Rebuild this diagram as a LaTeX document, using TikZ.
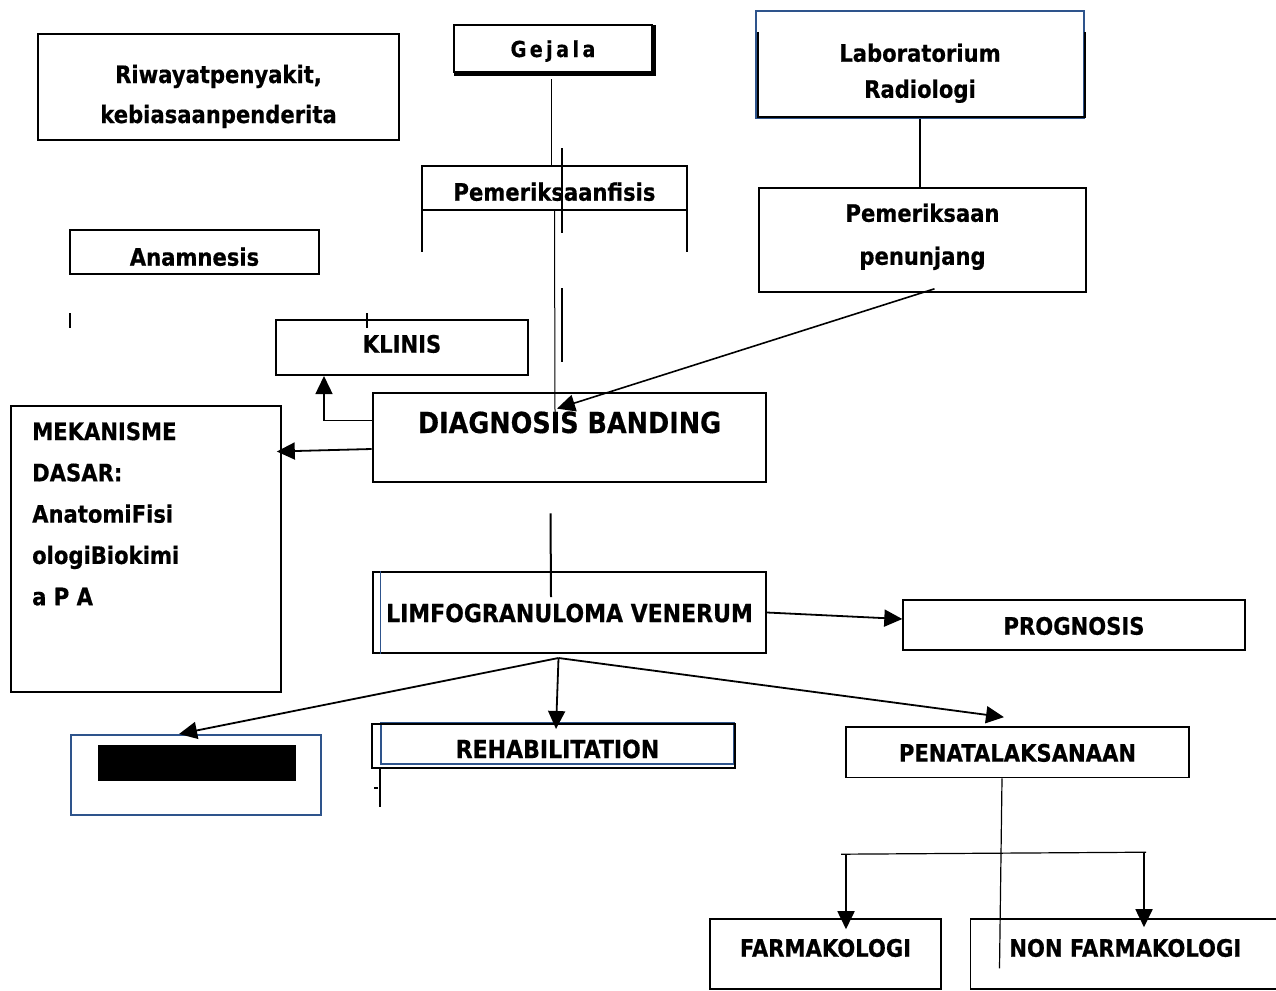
\documentclass[tikz,border=0pt]{standalone}
\usepackage{fontspec}
\setmainfont{DejaVu Sans}[FakeStretch=0.88, FakeBold=0.5]
\usepackage{xcolor}
\usetikzlibrary{arrows.meta}
\definecolor{boxblue}{RGB}{46,84,140}
\tikzset{
  box/.style={draw, line width=1.6pt, inner sep=0pt, align=center,
    font=\bfseries\fontsize{24}{40}\selectfont},
  arr/.style={line width=1.8pt, -{Triangle[length=18pt,width=17pt]}},
  ln/.style={line width=1.2pt}
}

\begin{document}
\begin{tikzpicture}[x=1pt,y=-1pt]
\useasboundingbox (0,0) rectangle (1276,990);

\node[box, minimum width=361, text height=89pt, text depth=17pt] (riwayat) at (218.5,87) {Riwayatpenyakit,\\kebiasaanpenderita};
\node[box, line width=2.2pt, minimum width=198, text height=32pt, text depth=15pt,
  font=\bfseries\fontsize{22}{25}\selectfont\addfontfeature{LetterSpace=15}] (gejala) at (553,48.5) {Gejala};
\node[box, draw=boxblue, line width=2pt, minimum width=328, text height=86.75pt, text depth=20.25pt,
  font=\bfseries\fontsize{24}{36}\selectfont] (lab) at (920,64.5) {Laboratorium\\Radiologi};
\node[box, draw=none, minimum width=263, text height=33.7pt, text depth=8.3pt] (fisis) at (554.5,188) {Pemeriksaanfisis};
\node[box, minimum width=327, text height=76.75pt, text depth=27.25pt,
  font=\bfseries\fontsize{24}{43}\selectfont] (pen) at (922.5,240) {Pemeriksaan\\penunjang};
\node[box, minimum width=249, text height=35.7pt, text depth=8.3pt] (anam) at (194.5,252) {Anamnesis};
\node[box, line width=2pt, minimum width=252, text height=32.7pt, text depth=22.3pt] (klinis) at (402,347.5) {KLINIS};
\node[box, line width=2.8pt, minimum width=393, text height=40pt, text depth=49pt,
  font=\bfseries\fontsize{29}{34}\selectfont] (diag) at (569.5,437.5) {DIAGNOSIS BANDING};
\node[box, minimum width=270, minimum height=286] (mek) at (146,549) {};
\node[anchor=north west, inner sep=0pt, align=left,
  font=\bfseries\fontsize{24}{41.3}\selectfont] (mektext) at (32,422)
  {MEKANISME\\DASAR:\\AnatomiFisi\\ologiBiokimi\\a P A};
\node[box, line width=2pt, minimum width=393, text height=50.1pt, text depth=30.9pt,
  font=\bfseries\fontsize{25}{30}\selectfont] (limfo) at (569.5,612.5) {LIMFOGRANULOMA VENERUM};
\node[box, line width=1.4pt, minimum width=342, text height=34.7pt, text depth=15.3pt] (prog) at (1074,625) {PROGNOSIS};
\node[box, draw=boxblue, line width=2pt, minimum width=250, minimum height=80] (redact) at (196,775) {};
\node[box, draw=boxblue, line width=2pt, minimum width=353, text height=35.1pt, text depth=5.9pt,
  font=\bfseries\fontsize{25}{30}\selectfont] (rehab) at (557.5,743.5) {REHABILITATION};
\node[box, minimum width=343, text height=34.7pt, text depth=16pt] (penata) at (1017.5,752.3) {PENATALAKSANAAN};
\node[box, minimum width=231, text height=37.7pt, text depth=32.3pt] (farma) at (825.5,954) {FARMAKOLOGI};
\node[box, minimum width=309.5, text height=37.7pt, text depth=32.3pt] (nonfarma) at (1125.25,954) {NON FARMAKOLOGI};

\fill ([xshift=28pt,yshift=-11pt]redact.north west) rectangle ([xshift=-26pt,yshift=35pt]redact.south east);
\draw[line width=1.6pt] ([xshift=-8pt,yshift=-2pt]rehab.north west) rectangle ([yshift=-3pt]rehab.south east);
\draw[line width=1.6pt] ([yshift=-3pt]rehab.south west) -- ++(0,39);
\draw[line width=1.6pt] (374,788) -- (378,788);
\draw[line width=2pt] ([xshift=3pt,yshift=-22pt]lab.north west) |- ([yshift=2pt]lab.south east) -- ([yshift=-22pt]lab.north east);
\draw[line width=2.4pt] ([xshift=1.5pt,yshift=-1.5pt]gejala.north east) |- ([xshift=1.5pt,yshift=-1.5pt]gejala.south west);
\draw[boxblue, line width=1.5pt] ([xshift=8.5pt]limfo.north west) -- ([xshift=8.5pt]limfo.south west);
\draw[line width=1.6pt] ([yshift=-42pt]fisis.south west) -- (fisis.north west) -- (fisis.north east) -- ([yshift=-42pt]fisis.south east);
\draw[line width=2.6pt] (fisis.south west) -- (fisis.south east);

\draw[ln] (70,313) -- (70,328);
\draw[ln] (367,313) -- (367,328);
\draw[ln] (562,148) -- (562,233);
\draw[ln] (562,288) -- (562,362);

\coordinate (pentip) at ([xshift=-12.5pt,yshift=-17pt]diag.north);
\coordinate (fork) at ([xshift=-11pt,yshift=-4pt]limfo.south);
\coordinate (splitL) at ([xshift=20.5pt,yshift=64pt]farma.north);
\coordinate (splitR) at ([xshift=18.75pt,yshift=66pt]nonfarma.north);

\draw[ln] ([xshift=-1.5pt,yshift=-6pt]gejala.south) -- ([xshift=-1.5pt]gejala.south |- fisis.north);
\draw[line width=1pt] (fisis.south) -- ++(0.5,203);
\draw[ln] (lab.south) -- (lab.south |- pen.north);
\draw[arr, line width=1.6pt] ([xshift=12pt,yshift=4pt]pen.south) -- (pentip);
\draw[arr, line width=1.4pt] ([yshift=17pt]diag.west) -| ([xshift=-78pt]klinis.south);
\draw[arr] ([yshift=-11.5pt]diag.west) -- ([xshift=-5pt,yshift=97.5pt]mek.east);
\draw[line width=2pt] ([xshift=-19pt,yshift=-30pt]diag.south) -- ([xshift=-18.5pt,yshift=-26pt]limfo.north);
\draw[arr] (limfo.east) -- ([yshift=6pt]prog.west);
\draw[arr] (fork) -- ([xshift=-17pt]redact.north);
\draw[arr] (fork) -- ([xshift=-1.5pt,yshift=-7pt]rehab.north);
\draw[arr] (fork) -- ([xshift=-13.5pt,yshift=9pt]penata.north);
\draw[ln] ([xshift=-15.5pt]penata.south) -- ++(-2.5,190);
\draw[ln] ([xshift=-5pt]splitL) -- ([xshift=2pt]splitR);
\draw[arr] (splitL) -- ([xshift=20.5pt,yshift=-11pt]farma.north);
\draw[arr] (splitR) -- ([xshift=18.75pt,yshift=-9pt]nonfarma.north);

\end{tikzpicture}
\end{document}
